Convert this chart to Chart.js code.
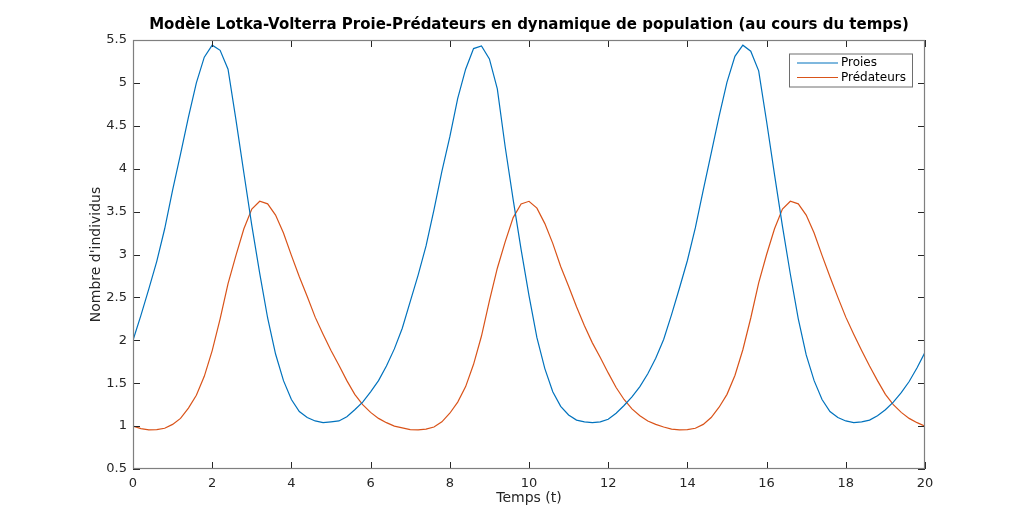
<!DOCTYPE html>
<html lang="fr">
<head>
  <meta charset="UTF-8">
  <title>Modèle Lotka-Volterra</title>
  <script src="https://cdn.jsdelivr.net/npm/chart.js"></script>
  <style>
    html, body { margin:0; padding:0; background:#fff; }
    #wrap { width:1022px; height:528px; position:relative; }
  </style>
</head>
<body>
  <div id="wrap"><canvas id="lv"></canvas></div>
  <script>
    // temps (t), pas de 0.2
    const temps = [
      0, 0.2, 0.4, 0.6, 0.8, 1, 1.2, 1.4, 1.6, 1.8,
      2, 2.2, 2.4, 2.6, 2.8, 3, 3.2, 3.4, 3.6, 3.8,
      4, 4.2, 4.4, 4.6, 4.8, 5, 5.2, 5.4, 5.6, 5.8,
      6, 6.2, 6.4, 6.6, 6.8, 7, 7.2, 7.4, 7.6, 7.8,
      8, 8.2, 8.4, 8.6, 8.8, 9, 9.2, 9.4, 9.6, 9.8,
      10, 10.2, 10.4, 10.6, 10.8, 11, 11.2, 11.4, 11.6, 11.8,
      12, 12.2, 12.4, 12.6, 12.8, 13, 13.2, 13.4, 13.6, 13.8,
      14, 14.2, 14.4, 14.6, 14.8, 15, 15.2, 15.4, 15.6, 15.8,
      16, 16.2, 16.4, 16.6, 16.8, 17, 17.2, 17.4, 17.6, 17.8,
      18, 18.2, 18.4, 18.6, 18.8, 19, 19.2, 19.4, 19.6, 19.8, 20
    ];
    const proies = [
      2.00, 2.29, 2.60, 2.92, 3.30, 3.75, 4.17, 4.60, 5.00, 5.30,
      5.44, 5.38, 5.16, 4.57, 3.95, 3.34, 2.78, 2.26, 1.84, 1.53,
      1.31, 1.17, 1.10, 1.06, 1.04, 1.05, 1.06, 1.11, 1.19, 1.28,
      1.40, 1.53, 1.70, 1.90,
      2.14, 2.45, 2.76, 3.10, 3.52, 3.97, 4.37, 4.82, 5.16, 5.40,
      5.43, 5.28, 4.93, 4.25, 3.64, 3.06, 2.52, 2.03, 1.67, 1.40,
      1.23, 1.13, 1.07, 1.05, 1.04, 1.05, 1.08, 1.15, 1.24, 1.34,
      1.46, 1.61, 1.79,
      2.01, 2.30, 2.61, 2.93, 3.31, 3.75, 4.18, 4.61, 5.01, 5.31,
      5.44, 5.37, 5.14, 4.55, 3.93, 3.33, 2.77, 2.25, 1.83, 1.53,
      1.31, 1.17, 1.10, 1.06, 1.04, 1.05, 1.07, 1.12, 1.19, 1.28,
      1.39, 1.52, 1.68, 1.86
    ];
    const predateurs = [
      1.00, 0.97, 0.955, 0.96, 0.975, 1.02, 1.09, 1.21, 1.36, 1.58,
      1.88, 2.25, 2.66, 2.99, 3.30, 3.53, 3.62, 3.59, 3.46, 3.25,
      2.99, 2.74, 2.51, 2.27, 2.07, 1.88, 1.71, 1.53, 1.37, 1.25,
      1.16, 1.09, 1.04, 1.00,
      0.98, 0.96, 0.955, 0.965, 0.99, 1.05, 1.15, 1.28, 1.46, 1.72,
      2.05, 2.46, 2.84, 3.15, 3.43, 3.59, 3.62, 3.54, 3.36, 3.13,
      2.86, 2.63, 2.39, 2.17, 1.97, 1.80, 1.62, 1.45, 1.31, 1.20,
      1.12, 1.06, 1.02,
      0.99, 0.965, 0.955, 0.96, 0.975, 1.02, 1.10, 1.22, 1.37, 1.59,
      1.89, 2.26, 2.67, 3.00, 3.30, 3.53, 3.62, 3.59, 3.46, 3.25,
      2.99, 2.74, 2.50, 2.27, 2.07, 1.88, 1.70, 1.53, 1.37, 1.25,
      1.16, 1.09, 1.04, 1.00
    ];
    const series = ['Proies', 'Prédateurs'];
    const couleurs = ['#0072BD', '#D95319'];
    const titre = 'Modèle Lotka-Volterra Proie-Prédateurs en dynamique de population (au cours du temps)';

    const FONT = "'DejaVu Sans', 'Liberation Sans', Arial, sans-serif";
    const TXT = '#262626';

    // cadre complet, graduations vers l'intérieur, titre et légende encadrée (style MATLAB)
    const cadre = {
      id: 'cadre',
      afterDatasetsDraw(chart) {
        const { ctx, chartArea: a, scales: { x, y } } = chart;
        ctx.save();
        ctx.lineWidth = 1;
        ctx.strokeStyle = TXT;
        ctx.beginPath();
        x.ticks.forEach(t => {
          const px = Math.round(x.getPixelForValue(t.value)) + 0.5;
          ctx.moveTo(px, a.bottom); ctx.lineTo(px, a.bottom - 7);
          ctx.moveTo(px, a.top); ctx.lineTo(px, a.top + 7);
        });
        y.ticks.forEach(t => {
          const py = Math.round(y.getPixelForValue(t.value)) + 0.5;
          ctx.moveTo(a.left, py); ctx.lineTo(a.left + 7, py);
          ctx.moveTo(a.right, py); ctx.lineTo(a.right - 7, py);
        });
        ctx.stroke();
        ctx.strokeStyle = '#7f7f7f';
        ctx.lineWidth = 1.2;
        ctx.strokeRect(a.left + 0.5, a.top + 0.5, a.width - 1, a.height - 1);

        // titre centré sur la zone de tracé
        ctx.fillStyle = '#000';
        ctx.font = 'bold 15px ' + FONT;
        ctx.textAlign = 'center';
        ctx.textBaseline = 'middle';
        ctx.fillText(titre, (a.left + a.right) / 2, 25);

        // légende
        const lx = a.right - 136, ly = a.top + 13.5, lw = 123, lh = 33;
        ctx.fillStyle = '#fff';
        ctx.fillRect(lx, ly, lw, lh);
        ctx.strokeStyle = '#6e6e6e';
        ctx.lineWidth = 1;
        ctx.strokeRect(lx + 0.5, ly + 0.5, lw, lh);
        ctx.font = '12px ' + FONT;
        ctx.textAlign = 'left';
        chart.data.datasets.forEach((ds, i) => {
          const yy = ly + 9.5 + i * 14.5;
          ctx.strokeStyle = ds.borderColor;
          ctx.lineWidth = 1.2;
          ctx.beginPath();
          ctx.moveTo(lx + 8, yy); ctx.lineTo(lx + 49, yy);
          ctx.stroke();
          ctx.fillStyle = '#000';
          ctx.fillText(ds.label, lx + 52, yy);
        });
        ctx.restore();
      }
    };

    new Chart(document.getElementById('lv'), {
      type: 'line',
      data: {
        datasets: series.map((nom, i) => ({
          label: nom,
          data: temps.map((t, k) => ({ x: t, y: (i === 0 ? proies : predateurs)[k] })),
          borderColor: couleurs[i],
          borderWidth: 1.2,
          pointRadius: 0,
          tension: 0,
          fill: false
        }))
      },
      options: {
        responsive: true,
        maintainAspectRatio: false,
        animation: false,
        layout: { padding: { left: 0, right: 97, top: 40, bottom: 0 } },
        plugins: {
          legend: { display: false },
          tooltip: { enabled: false },
          title: { display: false }
        },
        scales: {
          x: {
            type: 'linear',
            min: 0, max: 20,
            afterFit: s => { s.height = 59; },
            ticks: { stepSize: 2, color: TXT, padding: 7, maxRotation: 0, font: { family: FONT, size: 13 } },
            grid: { display: false, drawTicks: false },
            border: { display: false },
            title: {
              display: true, text: 'Temps (t)', color: TXT,
              font: { family: FONT, size: 14 },
              padding: { top: 0, bottom: 21 }
            }
          },
          y: {
            min: 0.5, max: 5.5,
            afterFit: s => { s.width = 133; },
            ticks: {
              stepSize: 0.5, color: TXT, padding: 6, font: { family: FONT, size: 13 },
              callback: v => String(Math.round(v * 10) / 10)
            },
            grid: { display: false, drawTicks: false },
            border: { display: false },
            title: {
              display: true, text: "Nombre d'individus", color: TXT,
              font: { family: FONT, size: 14 },
              padding: { top: 87.6, bottom: 0 }
            }
          }
        }
      },
      plugins: [cadre]
    });
  </script>
</body>
</html>
